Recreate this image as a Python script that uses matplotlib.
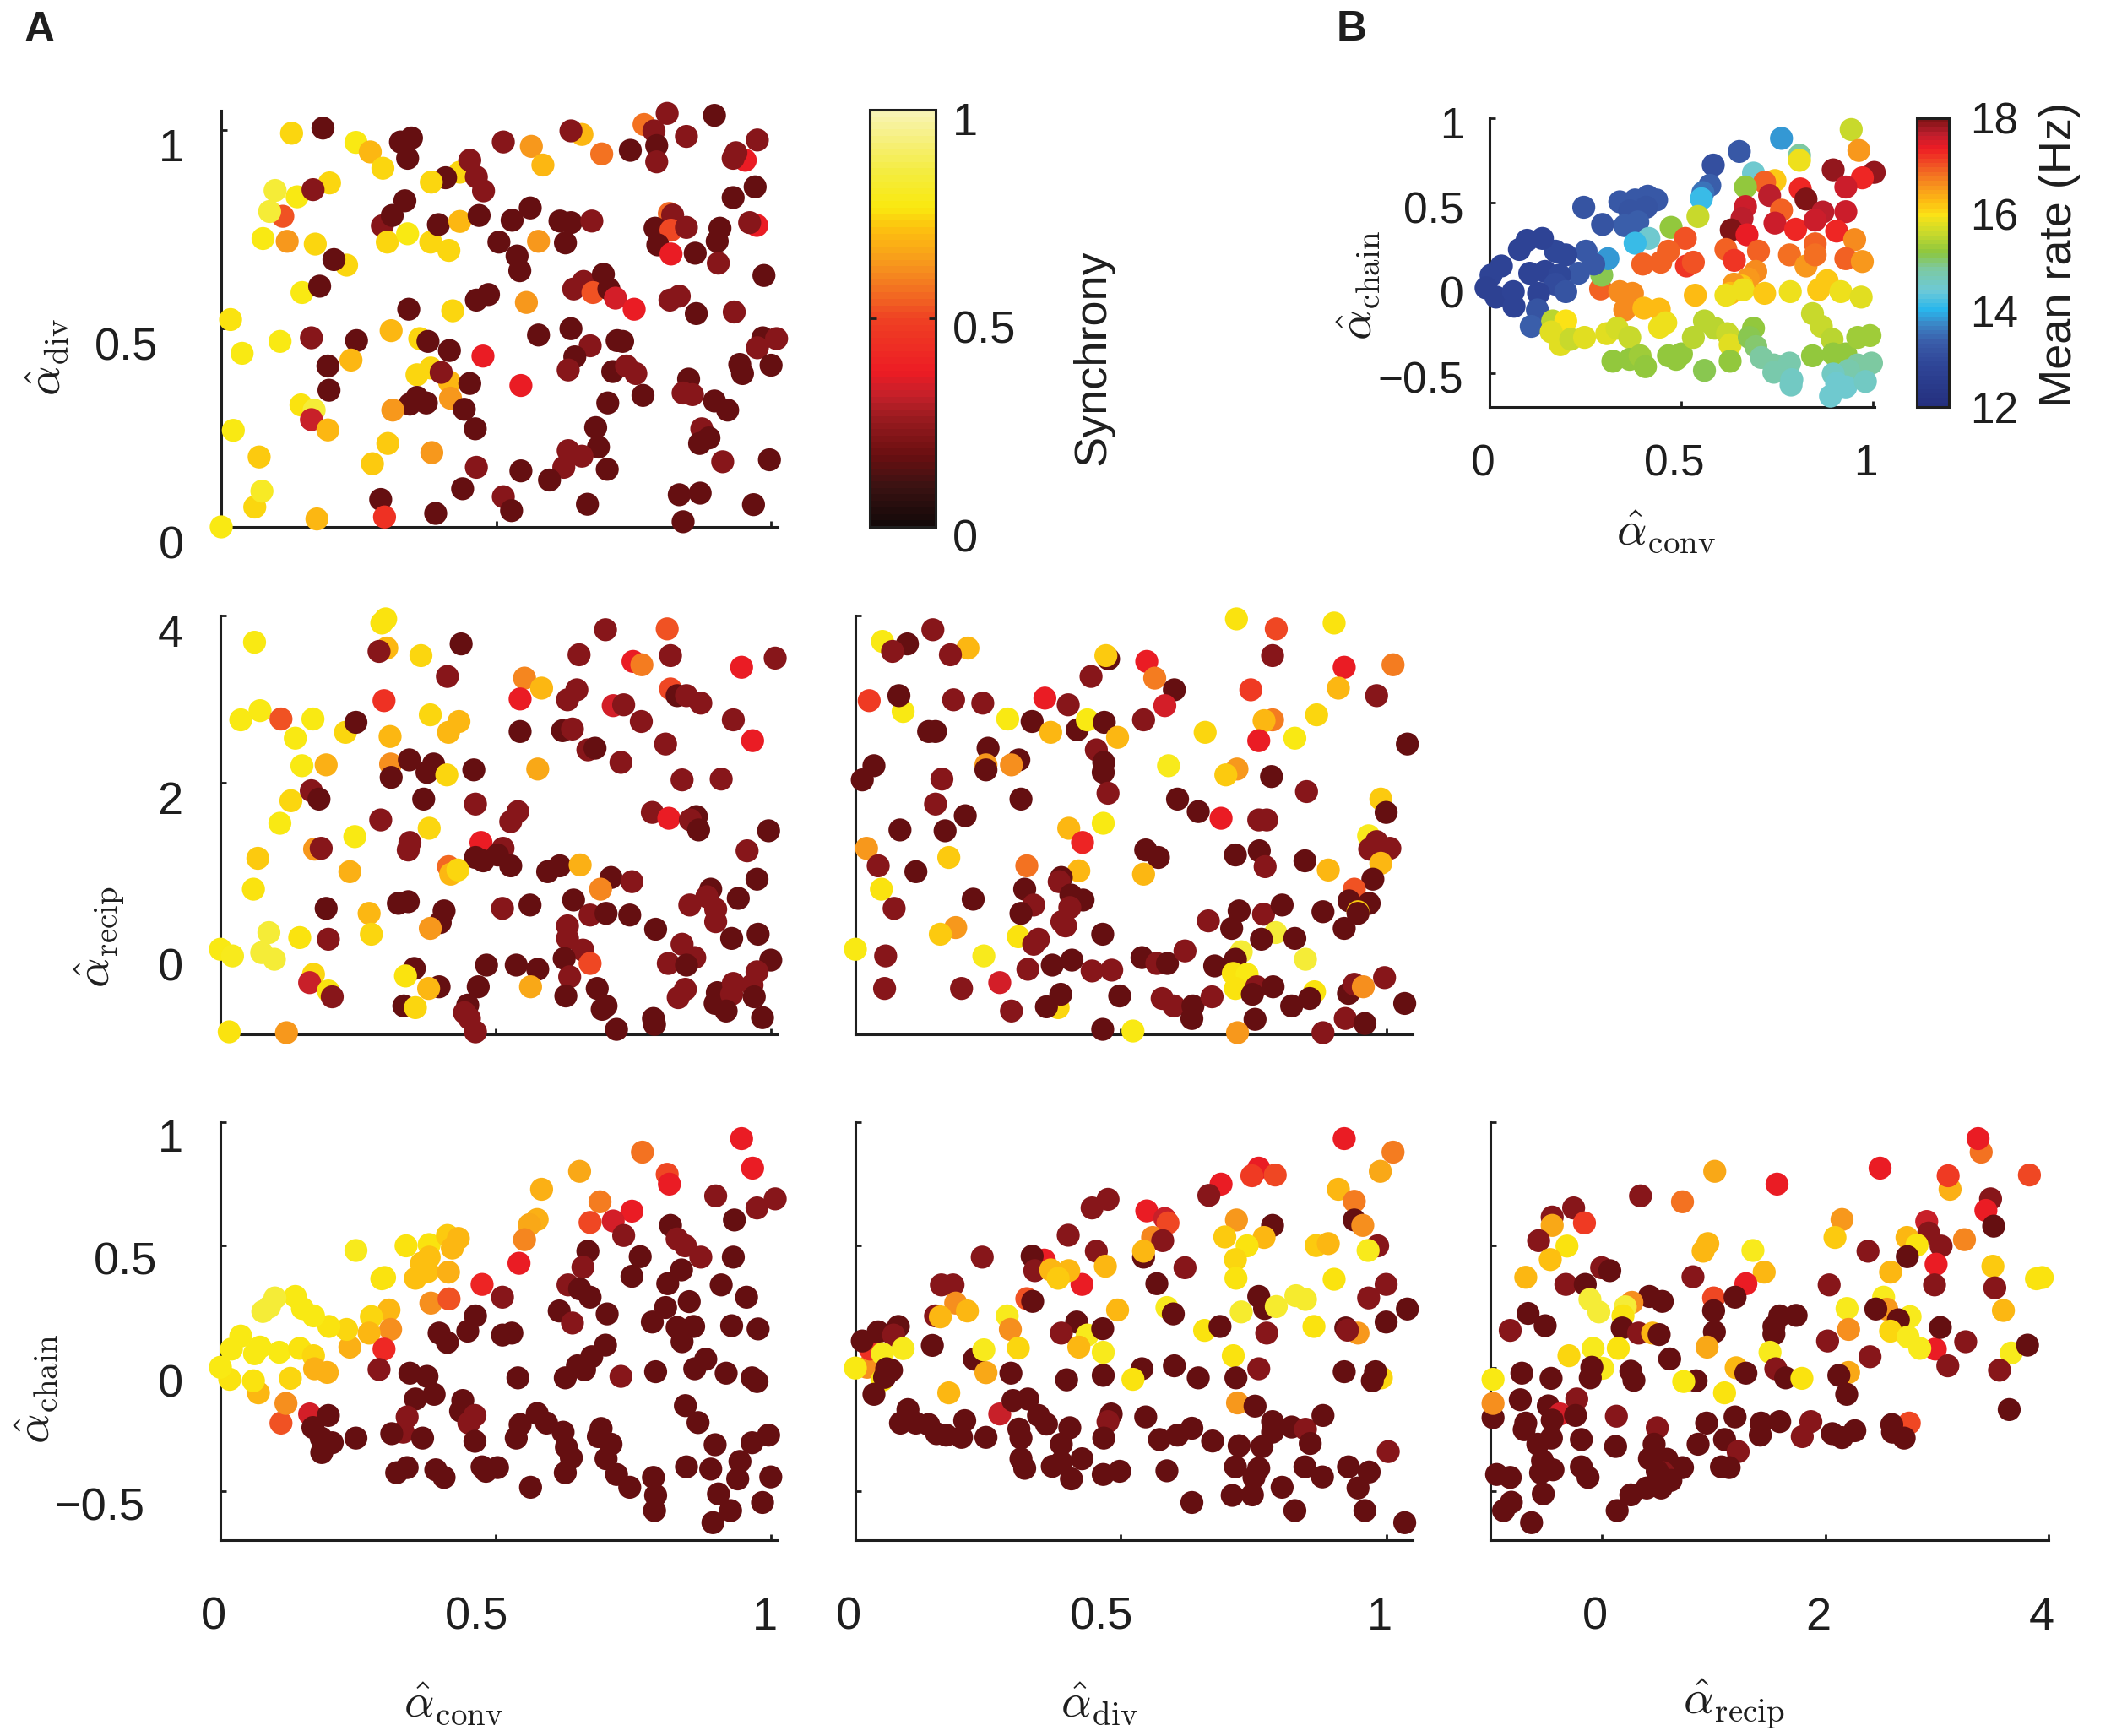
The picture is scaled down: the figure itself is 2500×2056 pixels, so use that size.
#%%
# Scatter panels: synchrony vs second order motif statistics (A), mean rate (B)
import numpy as np
import matplotlib
matplotlib.use('Agg')
import matplotlib.pyplot as plt
from matplotlib.colors import LinearSegmentedColormap, Normalize
from matplotlib.cm import ScalarMappable
from matplotlib.transforms import ScaledTranslation

plt.rcParams['font.family'] = ['Liberation Sans', 'DejaVu Sans']
plt.rcParams['mathtext.fontset'] = 'cm'

#%%
# =============================================================================
# Data: (x, y, colour value) per panel
# =============================================================================

# A, top: alpha_div vs alpha_conv, synchrony
div_conv = [
    (0.128, 0.991, 0.74), (0.185, 1.004, 0.17), (0.245, 0.968, 0.78), (0.271, 0.944, 0.69), (0.294, 0.903, 0.74),
    (0.326, 0.969, 0.17), (0.346, 0.979, 0.17), (0.339, 0.928, 0.17), (0.434, 0.893, 0.74), (0.452, 0.923, 0.22),
    (0.464, 0.881, 0.22), (0.477, 0.846, 0.22), (0.408, 0.879, 0.17), (0.382, 0.868, 0.74), (0.513, 0.969, 0.22),
    (0.564, 0.958, 0.63), (0.585, 0.911, 0.69), (0.656, 0.988, 0.69), (0.636, 0.997, 0.22), (0.692, 0.939, 0.57),
    (0.744, 0.948, 0.17), (0.769, 1.013, 0.57), (0.787, 0.997, 0.22), (0.811, 1.041, 0.22), (0.792, 0.960, 0.17),
    (0.792, 0.919, 0.22), (0.846, 0.983, 0.22), (0.897, 1.036, 0.17), (0.975, 0.974, 0.22), (0.953, 0.923, 0.37),
    (0.936, 0.942, 0.22), (0.931, 0.928, 0.22), (0.971, 0.856, 0.17), (0.931, 0.829, 0.17),
    (0.098, 0.847, 0.84), (0.138, 0.831, 0.78), (0.197, 0.866, 0.74), (0.167, 0.849, 0.22), (0.112, 0.782, 0.53),
    (0.088, 0.794, 0.84), (0.076, 0.726, 0.78), (0.120, 0.719, 0.63), (0.171, 0.712, 0.74), (0.228, 0.659, 0.74),
    (0.205, 0.673, 0.17), (0.147, 0.590, 0.78), (0.179, 0.606, 0.17), (0.293, 0.758, 0.22), (0.311, 0.784, 0.17),
    (0.334, 0.821, 0.17), (0.302, 0.717, 0.74), (0.339, 0.738, 0.78), (0.381, 0.717, 0.74), (0.414, 0.696, 0.74),
    (0.395, 0.761, 0.17), (0.434, 0.769, 0.69), (0.469, 0.784, 0.17), (0.529, 0.772, 0.17), (0.562, 0.803, 0.17),
    (0.505, 0.717, 0.17), (0.538, 0.682, 0.17), (0.543, 0.645, 0.17), (0.577, 0.719, 0.63), (0.616, 0.770, 0.17),
    (0.636, 0.766, 0.17), (0.674, 0.770, 0.22), (0.626, 0.715, 0.17), (0.815, 0.789, 0.55), (0.821, 0.785, 0.22),
    (0.789, 0.752, 0.17), (0.818, 0.747, 0.50), (0.846, 0.754, 0.22), (0.907, 0.752, 0.17), (0.902, 0.719, 0.17),
    (0.974, 0.759, 0.37), (0.961, 0.766, 0.22), (0.794, 0.710, 0.17), (0.818, 0.687, 0.37), (0.862, 0.689, 0.17),
    (0.904, 0.664, 0.22), (0.987, 0.633, 0.17), (0.641, 0.599, 0.22), (0.659, 0.618, 0.22), (0.695, 0.636, 0.17),
    (0.676, 0.590, 0.53), (0.705, 0.599, 0.17), (0.717, 0.576, 0.34), (0.751, 0.548, 0.37), (0.816, 0.571, 0.22),
    (0.833, 0.581, 0.22), (0.864, 0.537, 0.17), (0.933, 0.541, 0.22), (0.985, 0.476, 0.17), (1.010, 0.474, 0.22),
    (0.975, 0.451, 0.22), (1.000, 0.407, 0.17), (0.943, 0.409, 0.17), (0.948, 0.386, 0.17),
    (0.017, 0.522, 0.75), (0.038, 0.437, 0.78), (0.107, 0.467, 0.78), (0.164, 0.476, 0.22), (0.246, 0.469, 0.17),
    (0.309, 0.494, 0.69), (0.361, 0.474, 0.74), (0.376, 0.467, 0.17), (0.341, 0.548, 0.17), (0.421, 0.544, 0.74),
    (0.464, 0.571, 0.17), (0.486, 0.585, 0.17), (0.555, 0.565, 0.63), (0.415, 0.444, 0.17), (0.476, 0.430, 0.37),
    (0.194, 0.405, 0.17), (0.236, 0.420, 0.69), (0.196, 0.344, 0.17), (0.356, 0.383, 0.74), (0.381, 0.400, 0.74),
    (0.415, 0.365, 0.69), (0.400, 0.389, 0.22), (0.417, 0.324, 0.63), (0.452, 0.361, 0.17), (0.343, 0.309, 0.17),
    (0.356, 0.326, 0.17), (0.373, 0.312, 0.17), (0.312, 0.294, 0.63), (0.442, 0.296, 0.17), (0.462, 0.247, 0.17),
    (0.545, 0.356, 0.37), (0.577, 0.483, 0.17), (0.636, 0.499, 0.17), (0.671, 0.456, 0.22), (0.643, 0.428, 0.17),
    (0.631, 0.395, 0.22), (0.720, 0.469, 0.17), (0.730, 0.467, 0.17), (0.712, 0.391, 0.17), (0.737, 0.405, 0.22),
    (0.754, 0.386, 0.22), (0.767, 0.331, 0.17), (0.703, 0.312, 0.17), (0.681, 0.250, 0.17), (0.686, 0.201, 0.17),
    (0.631, 0.192, 0.22), (0.656, 0.178, 0.22), (0.623, 0.150, 0.22), (0.597, 0.118, 0.17), (0.702, 0.145, 0.17),
    (0.666, 0.057, 0.17), (0.850, 0.372, 0.17), (0.840, 0.337, 0.22), (0.857, 0.333, 0.22), (0.897, 0.317, 0.17),
    (0.921, 0.294, 0.17), (0.874, 0.247, 0.22), (0.887, 0.224, 0.17), (0.870, 0.210, 0.17), (0.912, 0.164, 0.22),
    (0.997, 0.169, 0.17), (0.833, 0.081, 0.17), (0.871, 0.085, 0.17), (0.840, 0.013, 0.17), (0.968, 0.056, 0.17),
    (0.545, 0.141, 0.17), (0.464, 0.150, 0.22), (0.439, 0.096, 0.17), (0.513, 0.076, 0.22), (0.528, 0.041, 0.17),
    (0.390, 0.034, 0.17), (0.290, 0.069, 0.17), (0.297, 0.025, 0.45), (0.174, 0.020, 0.69), (0.000, 0.000, 0.78),
    (0.061, 0.050, 0.74), (0.074, 0.090, 0.80), (0.069, 0.176, 0.72), (0.022, 0.243, 0.78), (0.145, 0.307, 0.75),
    (0.169, 0.294, 0.84), (0.164, 0.270, 0.32), (0.194, 0.244, 0.69), (0.303, 0.210, 0.72), (0.275, 0.159, 0.72),
    (0.383, 0.187, 0.63),
]

# A, middle left: alpha_recip vs alpha_conv
recip_conv = [
    (0.062, 3.68, 0.78), (0.300, 3.96, 0.75), (0.293, 3.91, 0.75), (0.302, 3.61, 0.69), (0.288, 3.57, 0.22),
    (0.364, 3.52, 0.74), (0.437, 3.66, 0.17), (0.412, 3.27, 0.22), (0.699, 3.83, 0.22), (0.811, 3.84, 0.52),
    (0.651, 3.53, 0.22), (0.749, 3.45, 0.37), (0.765, 3.41, 0.58), (0.817, 3.52, 0.22), (0.946, 3.38, 0.37),
    (1.007, 3.49, 0.22), (0.552, 3.25, 0.60), (0.583, 3.13, 0.69), (0.544, 3.00, 0.37), (0.647, 3.11, 0.22),
    (0.630, 2.99, 0.22), (0.297, 2.98, 0.45), (0.817, 3.12, 0.50), (0.829, 3.04, 0.17), (0.846, 3.04, 0.22),
    (0.872, 2.95, 0.22), (0.713, 2.92, 0.33), (0.732, 2.93, 0.22), (0.037, 2.75, 0.78), (0.072, 2.86, 0.78),
    (0.110, 2.76, 0.52), (0.168, 2.76, 0.78), (0.136, 2.53, 0.78), (0.227, 2.60, 0.74), (0.246, 2.72, 0.17),
    (0.308, 2.55, 0.69), (0.381, 2.81, 0.74), (0.433, 2.73, 0.69), (0.414, 2.60, 0.69), (0.544, 2.61, 0.17),
    (0.621, 2.62, 0.17), (0.639, 2.64, 0.22), (0.764, 2.73, 0.22), (0.931, 2.75, 0.22), (0.966, 2.50, 0.37),
    (0.667, 2.39, 0.22), (0.680, 2.41, 0.17), (0.808, 2.46, 0.22), (0.727, 2.24, 0.22), (0.148, 2.20, 0.78),
    (0.192, 2.21, 0.68), (0.309, 2.22, 0.62), (0.343, 2.27, 0.17), (0.310, 2.06, 0.17), (0.375, 2.12, 0.17),
    (0.387, 2.22, 0.17), (0.411, 2.09, 0.74), (0.460, 2.15, 0.17), (0.576, 2.16, 0.67), (0.838, 2.03, 0.22),
    (0.909, 2.04, 0.22), (0.128, 1.78, 0.74), (0.165, 1.90, 0.22), (0.179, 1.80, 0.17), (0.108, 1.51, 0.78),
    (0.291, 1.55, 0.22), (0.369, 1.80, 0.17), (0.463, 1.74, 0.22), (0.540, 1.65, 0.22), (0.527, 1.53, 0.22),
    (0.784, 1.64, 0.22), (0.814, 1.57, 0.37), (0.864, 1.59, 0.17), (0.853, 1.55, 0.22), (0.868, 1.43, 0.17),
    (0.995, 1.42, 0.17), (0.244, 1.35, 0.78), (0.379, 1.45, 0.74), (0.344, 1.28, 0.22), (0.341, 1.19, 0.22),
    (0.068, 1.09, 0.72), (0.171, 1.20, 0.64), (0.183, 1.21, 0.22), (0.473, 1.28, 0.37), (0.513, 1.21, 0.22),
    (0.463, 1.10, 0.17), (0.477, 1.06, 0.17), (0.503, 1.13, 0.17), (0.527, 1.00, 0.17), (0.414, 0.99, 0.55),
    (0.418, 0.90, 0.69), (0.431, 0.95, 0.74), (0.235, 0.93, 0.68), (0.594, 0.93, 0.17), (0.616, 1.00, 0.17),
    (0.653, 1.01, 0.68), (0.956, 1.18, 0.22), (0.709, 0.86, 0.17), (0.747, 0.81, 0.22), (0.690, 0.72, 0.60),
    (0.974, 0.84, 0.17), (0.060, 0.72, 0.75), (0.192, 0.49, 0.17), (0.270, 0.43, 0.69), (0.323, 0.55, 0.17),
    (0.341, 0.57, 0.17), (0.406, 0.46, 0.17), (0.399, 0.32, 0.17), (0.381, 0.25, 0.63), (0.512, 0.49, 0.22),
    (0.562, 0.53, 0.17), (0.641, 0.59, 0.17), (0.671, 0.41, 0.22), (0.700, 0.43, 0.17), (0.743, 0.41, 0.17),
    (0.630, 0.28, 0.22), (0.790, 0.24, 0.17), (0.890, 0.72, 0.17), (0.883, 0.63, 0.22), (0.852, 0.53, 0.22),
    (0.899, 0.48, 0.22), (0.899, 0.33, 0.22), (0.940, 0.61, 0.17), (0.088, 0.20, 0.84), (0.144, 0.14, 0.75),
    (0.196, 0.12, 0.22), (0.274, 0.18, 0.74), (0.630, 0.13, 0.22), (0.658, -0.01, 0.22), (0.928, 0.13, 0.17),
    (0.976, 0.18, 0.17), (0.000, 0.00, 0.78), (0.022, -0.08, 0.79), (0.075, -0.04, 0.84), (0.098, -0.12, 0.84),
    (0.352, -0.23, 0.17), (0.336, -0.32, 0.76), (0.483, -0.19, 0.17), (0.537, -0.19, 0.17), (0.576, -0.24, 0.17),
    (0.624, -0.11, 0.17), (0.671, -0.17, 0.50), (0.634, -0.33, 0.22), (0.838, 0.06, 0.22), (0.861, -0.10, 0.22),
    (0.813, -0.17, 0.22), (0.846, -0.19, 0.17), (0.999, -0.13, 0.17), (0.974, -0.27, 0.22), (0.169, -0.30, 0.74),
    (0.162, -0.40, 0.32), (0.196, -0.50, 0.76), (0.203, -0.57, 0.22), (0.397, -0.45, 0.17), (0.378, -0.47, 0.69),
    (0.468, -0.45, 0.17), (0.563, -0.45, 0.66), (0.627, -0.56, 0.17), (0.684, -0.47, 0.17), (0.700, -0.68, 0.17),
    (0.693, -0.72, 0.17), (0.844, -0.48, 0.22), (0.831, -0.58, 0.22), (0.902, -0.52, 0.17), (0.898, -0.65, 0.17),
    (0.931, -0.41, 0.22), (0.928, -0.54, 0.22), (0.965, -0.43, 0.22), (0.969, -0.57, 0.17), (0.918, -0.74, 0.17),
    (0.984, -0.82, 0.17), (0.333, -0.68, 0.17), (0.354, -0.70, 0.74), (0.449, -0.67, 0.17), (0.443, -0.76, 0.22),
    (0.452, -0.83, 0.22), (0.463, -0.99, 0.22), (0.786, -0.83, 0.17), (0.788, -0.90, 0.17), (0.719, -0.96, 0.17),
    (0.016, -0.99, 0.75), (0.120, -1.00, 0.63),
]

# A, middle: alpha_recip vs alpha_div
recip_div = [
    (0.051, 3.69, 0.78), (0.098, 3.66, 0.17), (0.070, 3.57, 0.22), (0.146, 3.83, 0.22), (0.212, 3.61, 0.69),
    (0.179, 3.53, 0.22), (0.026, 2.98, 0.47), (0.090, 2.85, 0.78), (0.082, 3.04, 0.17), (0.185, 2.99, 0.22),
    (0.240, 2.95, 0.22), (0.138, 2.61, 0.17), (0.151, 2.61, 0.17), (0.287, 2.76, 0.78), (0.333, 2.73, 0.17),
    (0.357, 3.01, 0.37), (0.401, 2.93, 0.22), (0.368, 2.60, 0.69), (0.418, 2.63, 0.17), (0.437, 2.75, 0.78),
    (0.469, 2.72, 0.17), (0.494, 2.54, 0.69), (0.477, 3.48, 0.17), (0.472, 3.52, 0.72), (0.444, 3.27, 0.22),
    (0.549, 3.45, 0.37), (0.564, 3.25, 0.58), (0.601, 3.11, 0.17), (0.583, 2.92, 0.34), (0.543, 2.75, 0.22),
    (0.718, 3.96, 0.75), (0.793, 3.84, 0.50), (0.902, 3.91, 0.75), (0.786, 3.52, 0.22), (0.921, 3.38, 0.37),
    (1.013, 3.41, 0.58), (0.745, 3.11, 0.47), (0.910, 3.13, 0.69), (0.982, 3.04, 0.22), (0.786, 2.75, 0.58),
    (0.770, 2.74, 0.69), (0.869, 2.81, 0.74), (0.760, 2.50, 0.37), (0.828, 2.53, 0.78), (0.659, 2.60, 0.74),
    (1.040, 2.46, 0.17), (0.250, 2.41, 0.17), (0.308, 2.27, 0.17), (0.246, 2.21, 0.64), (0.246, 2.15, 0.17),
    (0.294, 2.21, 0.62), (0.454, 2.39, 0.22), (0.468, 2.24, 0.17), (0.467, 2.12, 0.17), (0.476, 1.87, 0.22),
    (0.035, 2.20, 0.17), (0.013, 2.03, 0.17), (0.163, 2.04, 0.22), (0.151, 1.74, 0.22), (0.312, 1.80, 0.17),
    (0.207, 1.60, 0.17), (0.084, 1.43, 0.17), (0.169, 1.42, 0.17), (0.590, 2.20, 0.79), (0.719, 2.16, 0.64),
    (0.698, 2.09, 0.72), (0.784, 2.07, 0.17), (0.850, 1.89, 0.22), (0.607, 1.80, 0.17), (0.646, 1.65, 0.17),
    (0.689, 1.57, 0.37), (0.760, 1.55, 0.22), (0.775, 1.55, 0.22), (0.990, 1.80, 0.72), (1.000, 1.64, 0.17),
    (0.402, 1.45, 0.69), (0.467, 1.51, 0.78), (0.428, 1.28, 0.40), (0.967, 1.36, 0.79), (0.982, 1.29, 0.22),
    (1.007, 1.21, 0.22), (0.969, 1.20, 0.22), (0.990, 1.03, 0.69), (0.021, 1.21, 0.64), (0.043, 1.00, 0.22),
    (0.114, 0.93, 0.17), (0.176, 1.10, 0.72), (0.049, 0.72, 0.75), (0.073, 0.49, 0.22), (0.323, 1.00, 0.57),
    (0.421, 0.94, 0.69), (0.388, 0.86, 0.17), (0.384, 0.81, 0.22), (0.547, 1.19, 0.17), (0.571, 1.10, 0.17),
    (0.543, 0.90, 0.69), (0.716, 1.13, 0.17), (0.761, 1.18, 0.17), (0.772, 0.99, 0.22), (0.847, 1.06, 0.17),
    (0.891, 0.95, 0.69), (0.975, 0.84, 0.17), (0.940, 0.72, 0.53), (0.930, 0.58, 0.17), (0.968, 0.55, 0.17),
    (0.947, 0.45, 0.72), (0.947, 0.43, 0.17), (0.921, 0.25, 0.17), (0.881, 0.45, 0.17), (0.222, 0.60, 0.17),
    (0.319, 0.72, 0.17), (0.336, 0.53, 0.22), (0.312, 0.43, 0.17), (0.406, 0.65, 0.17), (0.429, 0.59, 0.17),
    (0.404, 0.50, 0.22), (0.389, 0.33, 0.22), (0.396, 0.28, 0.22), (0.189, 0.26, 0.64), (0.160, 0.18, 0.72),
    (0.307, 0.15, 0.75), (0.345, 0.12, 0.22), (0.336, 0.06, 0.22), (0.466, 0.18, 0.17), (0.665, 0.34, 0.22),
    (0.723, 0.46, 0.17), (0.709, 0.25, 0.17), (0.769, 0.42, 0.22), (0.804, 0.53, 0.17), (0.792, 0.20, 0.83),
    (0.765, 0.12, 0.17), (0.828, 0.13, 0.17), (0.727, -0.03, 0.83), (0.716, -0.12, 0.17), (0.848, -0.12, 0.83),
    (0.000, 0.00, 0.78), (0.057, -0.08, 0.22), (0.242, -0.08, 0.79), (0.055, -0.47, 0.22), (0.200, -0.47, 0.22),
    (0.272, -0.40, 0.33), (0.325, -0.24, 0.22), (0.371, -0.19, 0.17), (0.408, -0.13, 0.17), (0.446, -0.26, 0.22),
    (0.483, -0.25, 0.22), (0.540, -0.10, 0.17), (0.568, -0.17, 0.22), (0.588, -0.17, 0.17), (0.621, -0.02, 0.22),
    (0.677, -0.20, 0.17), (0.712, -0.29, 0.76), (0.738, -0.30, 0.77), (0.716, -0.47, 0.75), (0.756, -0.45, 0.22),
    (0.787, -0.45, 0.17), (0.748, -0.54, 0.17), (0.865, -0.51, 0.76), (0.856, -0.59, 0.17), (0.822, -0.68, 0.17),
    (0.929, -0.53, 0.17), (0.940, -0.42, 0.22), (0.957, -0.45, 0.62), (0.997, -0.34, 0.22), (1.035, -0.65, 0.17),
    (0.382, -0.70, 0.74), (0.387, -0.54, 0.17), (0.360, -0.69, 0.17), (0.294, -0.74, 0.22), (0.498, -0.56, 0.17),
    (0.578, -0.59, 0.22), (0.600, -0.68, 0.22), (0.636, -0.68, 0.17), (0.634, -0.83, 0.17), (0.672, -0.57, 0.22),
    (0.753, -0.84, 0.17), (0.923, -0.83, 0.22), (0.960, -0.89, 0.17), (0.466, -0.96, 0.17), (0.523, -0.98, 0.77),
    (0.720, -1.00, 0.64), (0.881, -1.00, 0.22),
]

# A, bottom left: alpha_chain vs alpha_conv
chain_conv = [
    (0.946, 0.933, 0.37), (0.966, 0.813, 0.37), (0.766, 0.878, 0.57), (0.652, 0.800, 0.66), (0.811, 0.788, 0.50),
    (0.815, 0.748, 0.37), (0.583, 0.727, 0.68), (0.899, 0.700, 0.22), (1.007, 0.688, 0.22), (0.974, 0.651, 0.22),
    (0.689, 0.676, 0.58), (0.747, 0.638, 0.37), (0.671, 0.592, 0.50), (0.713, 0.598, 0.33), (0.732, 0.539, 0.22),
    (0.575, 0.604, 0.68), (0.561, 0.583, 0.66), (0.552, 0.522, 0.60), (0.933, 0.602, 0.17), (0.817, 0.580, 0.17),
    (0.829, 0.525, 0.22), (0.844, 0.497, 0.22), (0.872, 0.451, 0.22), (0.931, 0.451, 0.17), (0.762, 0.453, 0.17),
    (0.667, 0.475, 0.17), (0.658, 0.410, 0.22), (0.747, 0.373, 0.17), (0.837, 0.399, 0.17), (0.812, 0.343, 0.17),
    (0.909, 0.338, 0.17), (0.955, 0.288, 0.17), (0.542, 0.426, 0.37), (0.475, 0.340, 0.40), (0.512, 0.288, 0.22),
    (0.631, 0.338, 0.22), (0.652, 0.322, 0.17), (0.671, 0.288, 0.17), (0.808, 0.246, 0.17), (0.851, 0.270, 0.17),
    (0.615, 0.232, 0.17), (0.639, 0.183, 0.22), (0.702, 0.220, 0.17), (0.784, 0.187, 0.17), (0.829, 0.165, 0.17),
    (0.859, 0.169, 0.17), (0.838, 0.107, 0.17), (0.928, 0.172, 0.17), (0.976, 0.159, 0.17), (0.463, 0.212, 0.17),
    (0.449, 0.150, 0.17), (0.397, 0.142, 0.17), (0.412, 0.104, 0.17), (0.512, 0.134, 0.17), (0.529, 0.142, 0.17),
    (0.699, 0.093, 0.17), (0.674, 0.046, 0.17), (0.648, 0.009, 0.17), (0.661, -0.007, 0.17), (0.626, -0.040, 0.17),
    (0.540, -0.040, 0.17), (0.727, -0.034, 0.22), (0.790, -0.015, 0.17), (0.861, -0.003, 0.17), (0.881, 0.036, 0.17),
    (0.918, -0.021, 0.17), (0.965, -0.040, 0.17), (0.974, -0.055, 0.17), (0.246, 0.478, 0.79), (0.337, 0.497, 0.75),
    (0.379, 0.502, 0.75), (0.412, 0.539, 0.73), (0.432, 0.527, 0.70), (0.421, 0.488, 0.70), (0.379, 0.451, 0.71),
    (0.365, 0.426, 0.71), (0.376, 0.392, 0.71), (0.354, 0.365, 0.71), (0.414, 0.390, 0.68), (0.293, 0.363, 0.75),
    (0.298, 0.368, 0.75), (0.382, 0.264, 0.62), (0.415, 0.281, 0.53), (0.306, 0.236, 0.69), (0.274, 0.209, 0.74),
    (0.309, 0.157, 0.62), (0.270, 0.142, 0.69), (0.297, 0.077, 0.42), (0.288, -0.006, 0.22), (0.344, -0.021, 0.17),
    (0.375, -0.034, 0.17), (0.354, -0.126, 0.17), (0.388, -0.107, 0.17), (0.339, -0.199, 0.22), (0.332, -0.261, 0.22),
    (0.311, -0.267, 0.17), (0.367, -0.285, 0.17), (0.440, -0.132, 0.17), (0.436, -0.175, 0.17), (0.462, -0.193, 0.22),
    (0.451, -0.224, 0.22), (0.462, -0.298, 0.17), (0.320, -0.426, 0.17), (0.339, -0.405, 0.17), (0.391, -0.414, 0.17),
    (0.406, -0.445, 0.17), (0.475, -0.402, 0.17), (0.503, -0.405, 0.17), (0.482, -0.420, 0.17), (0.563, -0.485, 0.17),
    (0.544, -0.230, 0.17), (0.575, -0.185, 0.17), (0.592, -0.224, 0.17), (0.537, -0.285, 0.17), (0.622, -0.261, 0.17),
    (0.628, -0.322, 0.17), (0.637, -0.365, 0.17), (0.626, -0.426, 0.17), (0.691, -0.246, 0.17), (0.686, -0.279, 0.17),
    (0.709, -0.310, 0.17), (0.700, -0.369, 0.17), (0.719, -0.433, 0.17), (0.743, -0.485, 0.17), (0.786, -0.445, 0.17),
    (0.790, -0.518, 0.17), (0.788, -0.580, 0.17), (0.844, -0.153, 0.17), (0.867, -0.222, 0.17), (0.898, -0.312, 0.17),
    (0.846, -0.402, 0.17), (0.890, -0.411, 0.17), (0.943, -0.380, 0.17), (0.965, -0.304, 0.17), (0.995, -0.273, 0.17),
    (0.939, -0.451, 0.17), (0.999, -0.443, 0.17), (0.904, -0.512, 0.17), (0.926, -0.580, 0.17), (0.984, -0.547, 0.17),
    (0.894, -0.629, 0.17), (0.246, -0.285, 0.17), (0.162, -0.187, 0.33), (0.196, -0.193, 0.17), (0.168, -0.242, 0.17),
    (0.183, -0.285, 0.17), (0.203, -0.304, 0.17), (0.184, -0.344, 0.17), (0.110, -0.224, 0.52), (0.119, -0.144, 0.62),
    (0.069, -0.101, 0.69), (0.060, -0.052, 0.75), (0.017, -0.046, 0.75), (0.000, 0.003, 0.78), (0.037, 0.130, 0.78),
    (0.020, 0.077, 0.78), (0.062, 0.058, 0.78), (0.072, 0.085, 0.78), (0.107, 0.064, 0.77), (0.144, 0.080, 0.75),
    (0.127, -0.042, 0.74), (0.169, 0.050, 0.74), (0.171, -0.003, 0.68), (0.194, -0.018, 0.68), (0.235, 0.085, 0.68),
    (0.229, 0.157, 0.74), (0.197, 0.169, 0.75), (0.169, 0.212, 0.78), (0.149, 0.242, 0.78), (0.136, 0.291, 0.78),
    (0.099, 0.285, 0.83), (0.089, 0.249, 0.83), (0.077, 0.230, 0.83),
]

# A, bottom middle: alpha_chain vs alpha_div
chain_div = [
    (0.921, 0.933, 0.37), (1.013, 0.878, 0.58), (0.989, 0.800, 0.66), (0.760, 0.813, 0.37), (0.747, 0.782, 0.48),
    (0.791, 0.785, 0.50), (0.689, 0.748, 0.37), (0.666, 0.702, 0.22), (0.910, 0.727, 0.69), (0.940, 0.678, 0.58),
    (0.940, 0.602, 0.17), (0.956, 0.580, 0.62), (0.984, 0.497, 0.22), (0.966, 0.478, 0.79), (0.718, 0.602, 0.64),
    (0.786, 0.580, 0.17), (0.770, 0.531, 0.69), (0.696, 0.533, 0.72), (0.738, 0.497, 0.76), (0.716, 0.441, 0.74),
    (0.717, 0.365, 0.75), (0.868, 0.498, 0.73), (0.891, 0.506, 0.69), (0.902, 0.361, 0.75), (1.000, 0.340, 0.22),
    (0.967, 0.285, 0.22), (1.040, 0.240, 0.17), (1.000, 0.187, 0.17), (0.924, 0.163, 0.17), (0.947, 0.142, 0.64),
    (0.927, 0.154, 0.22), (0.864, 0.169, 0.75), (0.476, 0.686, 0.22), (0.446, 0.651, 0.22), (0.549, 0.639, 0.37),
    (0.583, 0.608, 0.32), (0.589, 0.590, 0.50), (0.560, 0.531, 0.60), (0.579, 0.518, 0.22), (0.543, 0.451, 0.17),
    (0.543, 0.475, 0.69), (0.401, 0.540, 0.22), (0.454, 0.475, 0.22), (0.471, 0.414, 0.70), (0.621, 0.408, 0.22),
    (0.568, 0.343, 0.17), (0.427, 0.340, 0.37), (0.356, 0.439, 0.37), (0.333, 0.455, 0.17), (0.338, 0.396, 0.22),
    (0.368, 0.399, 0.69), (0.402, 0.396, 0.69), (0.382, 0.365, 0.72), (0.239, 0.451, 0.22), (0.162, 0.338, 0.22),
    (0.184, 0.338, 0.22), (0.189, 0.264, 0.62), (0.211, 0.232, 0.69), (0.151, 0.212, 0.22), (0.160, 0.208, 0.69),
    (0.323, 0.282, 0.52), (0.334, 0.271, 0.17), (0.286, 0.212, 0.79), (0.292, 0.157, 0.62), (0.307, 0.081, 0.74),
    (0.224, 0.036, 0.17), (0.242, 0.074, 0.79), (0.246, -0.019, 0.66), (0.293, -0.021, 0.17), (0.176, -0.101, 0.70),
    (0.145, 0.092, 0.17), (0.494, 0.236, 0.69), (0.417, 0.187, 0.17), (0.388, 0.142, 0.22), (0.437, 0.134, 0.79),
    (0.466, 0.160, 0.17), (0.421, 0.085, 0.69), (0.467, 0.064, 0.79), (0.587, 0.246, 0.79), (0.599, 0.220, 0.17),
    (0.658, 0.153, 0.75), (0.687, 0.169, 0.17), (0.727, 0.228, 0.82), (0.760, 0.291, 0.17), (0.771, 0.242, 0.17),
    (0.793, 0.250, 0.82), (0.830, 0.294, 0.82), (0.848, 0.279, 0.82), (0.775, 0.142, 0.22), (0.712, 0.050, 0.75),
    (0.760, -0.003, 0.22), (0.717, -0.040, 0.17), (0.646, -0.040, 0.17), (0.601, 0.009, 0.17), (0.540, -0.003, 0.17),
    (0.523, -0.046, 0.75), (0.467, -0.030, 0.17), (0.398, -0.048, 0.17), (0.921, -0.015, 0.17), (0.991, -0.040, 0.74),
    (0.980, -0.015, 0.17), (0.974, -0.052, 0.17), (0.022, 0.003, 0.62), (0.000, 0.000, 0.78), (0.028, 0.077, 0.45),
    (0.013, 0.110, 0.17), (0.043, 0.147, 0.17), (0.081, 0.169, 0.17), (0.072, 0.134, 0.22), (0.090, 0.079, 0.79),
    (0.051, 0.058, 0.79), (0.050, -0.050, 0.75), (0.059, -0.003, 0.17), (0.068, -0.009, 0.17), (0.055, -0.038, 0.17),
    (0.035, -0.107, 0.17), (0.099, -0.169, 0.17), (0.085, -0.224, 0.17), (0.114, -0.224, 0.17), (0.138, -0.230, 0.17),
    (0.153, -0.267, 0.17), (0.171, -0.273, 0.17), (0.200, -0.282, 0.17), (0.206, -0.214, 0.17), (0.246, -0.282, 0.17),
    (0.272, -0.187, 0.32), (0.297, -0.132, 0.17), (0.325, -0.126, 0.17), (0.345, -0.193, 0.17), (0.360, -0.228, 0.17),
    (0.308, -0.248, 0.17), (0.312, -0.285, 0.17), (0.404, -0.243, 0.17), (0.388, -0.310, 0.17), (0.312, -0.369, 0.17),
    (0.319, -0.408, 0.17), (0.371, -0.400, 0.17), (0.388, -0.383, 0.17), (0.427, -0.369, 0.17), (0.407, -0.451, 0.17),
    (0.467, -0.433, 0.17), (0.498, -0.420, 0.17), (0.482, -0.187, 0.17), (0.476, -0.218, 0.22), (0.468, -0.285, 0.17),
    (0.547, -0.199, 0.17), (0.573, -0.291, 0.17), (0.607, -0.273, 0.17), (0.634, -0.245, 0.17), (0.673, -0.297, 0.17),
    (0.587, -0.418, 0.17), (0.634, -0.547, 0.17), (0.720, -0.142, 0.63), (0.753, -0.155, 0.17), (0.786, -0.218, 0.17),
    (0.786, -0.261, 0.17), (0.822, -0.240, 0.17), (0.848, -0.249, 0.22), (0.881, -0.193, 0.17), (0.857, -0.307, 0.17),
    (0.723, -0.316, 0.17), (0.766, -0.320, 0.17), (0.716, -0.402, 0.17), (0.760, -0.408, 0.17), (0.751, -0.445, 0.17),
    (0.847, -0.402, 0.17), (0.880, -0.443, 0.17), (0.804, -0.485, 0.17), (0.710, -0.518, 0.17), (0.748, -0.516, 0.17),
    (0.828, -0.580, 0.17), (0.929, -0.402, 0.17), (0.968, -0.423, 0.17), (0.947, -0.488, 0.17), (0.960, -0.580, 0.17),
    (1.004, -0.340, 0.22), (1.035, -0.629, 0.17),
]

# A, bottom right: alpha_chain vs alpha_recip
chain_recip = [
    (3.397, 0.878, 0.57), (3.369, 0.933, 0.37), (2.491, 0.813, 0.37), (3.118, 0.727, 0.68), (3.101, 0.782, 0.48),
    (3.829, 0.785, 0.50), (1.568, 0.748, 0.37), (1.010, 0.800, 0.66), (0.345, 0.700, 0.22), (0.721, 0.676, 0.57),
    (3.481, 0.688, 0.22), (3.439, 0.641, 0.37), (3.509, 0.577, 0.17), (2.909, 0.596, 0.32), (2.927, 0.549, 0.22),
    (3.038, 0.496, 0.22), (2.732, 0.531, 0.69), (2.822, 0.500, 0.75), (2.735, 0.453, 0.17), (2.993, 0.422, 0.37),
    (2.979, 0.338, 0.22), (3.247, 0.522, 0.60), (3.502, 0.414, 0.73), (3.519, 0.326, 0.22), (3.596, 0.234, 0.70),
    (3.892, 0.363, 0.76), (3.944, 0.368, 0.75), (2.150, 0.604, 0.64), (2.087, 0.531, 0.72), (2.383, 0.475, 0.22),
    (2.585, 0.390, 0.69), (2.035, 0.338, 0.22), (2.523, 0.288, 0.79), (2.551, 0.239, 0.64), (2.453, 0.240, 0.17),
    (2.195, 0.242, 0.79), (2.760, 0.209, 0.79), (2.655, 0.196, 0.17), (2.585, 0.150, 0.74), (2.742, 0.126, 0.79),
    (2.986, 0.077, 0.37), (2.847, 0.080, 0.79), (3.031, 0.165, 0.17), (3.258, 0.107, 0.22), (3.098, 0.009, 0.22),
    (3.666, 0.061, 0.79), (3.812, 0.093, 0.17), (3.561, -0.009, 0.22), (3.648, -0.169, 0.17), (2.209, 0.157, 0.62),
    (2.021, 0.110, 0.22), (2.401, 0.046, 0.22), (2.209, -0.018, 0.66), (2.122, -0.030, 0.17), (2.192, -0.107, 0.17),
    (-0.446, 0.614, 0.22), (-0.254, 0.651, 0.22), (-0.446, 0.580, 0.66), (-0.157, 0.590, 0.48), (-0.568, 0.518, 0.22),
    (-0.314, 0.496, 0.75), (-0.463, 0.441, 0.71), (-0.683, 0.369, 0.70), (-0.324, 0.340, 0.22), (-0.150, 0.340, 0.17),
    (-0.003, 0.408, 0.22), (0.070, 0.396, 0.17), (0.948, 0.506, 0.69), (0.906, 0.475, 0.69), (1.352, 0.478, 0.79),
    (1.453, 0.390, 0.69), (0.815, 0.371, 0.22), (1.289, 0.343, 0.37), (1.000, 0.285, 0.50), (1.192, 0.288, 0.17),
    (1.000, 0.233, 0.17), (1.007, 0.147, 0.17), (0.941, 0.085, 0.66), (0.425, 0.291, 0.17), (0.540, 0.271, 0.17),
    (0.268, 0.267, 0.62), (0.209, 0.249, 0.83), (0.188, 0.212, 0.75), (-0.108, 0.279, 0.83), (-0.028, 0.228, 0.83),
    (-0.662, 0.222, 0.17), (-0.509, 0.172, 0.17), (-0.822, 0.153, 0.22), (0.181, 0.163, 0.17), (0.328, 0.142, 0.22),
    (0.453, 0.142, 0.69), (0.512, 0.136, 0.17), (0.606, 0.037, 0.17), (1.592, 0.212, 0.17), (1.739, 0.214, 0.17),
    (1.540, 0.169, 0.17), (1.540, 0.138, 0.17), (1.505, 0.064, 0.79), (1.557, -0.003, 0.22), (1.645, -0.040, 0.17),
    (1.791, -0.042, 0.75), (1.202, 0.001, 0.69), (1.289, -0.021, 0.17), (1.098, -0.101, 0.75), (0.843, -0.052, 0.17),
    (0.732, -0.055, 0.77), (-0.296, 0.050, 0.74), (-0.080, 0.080, 0.79), (0.146, 0.080, 0.75), (0.007, -0.001, 0.79),
    (-0.091, 0.003, 0.17), (-0.105, -0.040, 0.17), (0.258, -0.013, 0.17), (0.286, -0.050, 0.17), (-0.718, -0.021, 0.17),
    (-0.456, -0.042, 0.17), (-0.976, -0.046, 0.77), (-0.976, -0.202, 0.17), (-0.976, -0.144, 0.62), (-0.732, -0.129, 0.17),
    (-0.481, -0.154, 0.17), (-0.226, -0.126, 0.22), (-0.376, -0.187, 0.34), (-0.237, -0.193, 0.17), (-0.446, -0.212, 0.17),
    (-0.683, -0.224, 0.17), (-0.697, -0.251, 0.17), (-0.453, -0.285, 0.17), (-0.575, -0.310, 0.17), (-0.185, -0.291, 0.17),
    (-0.533, -0.377, 0.17), (-0.439, -0.414, 0.17), (-0.550, -0.426, 0.17), (-0.185, -0.402, 0.17), (-0.125, -0.445, 0.17),
    (-0.944, -0.433, 0.17), (-0.822, -0.445, 0.17), (-0.526, -0.512, 0.17), (-0.812, -0.546, 0.17), (-0.882, -0.580, 0.17),
    (-0.631, -0.629, 0.17), (0.129, -0.196, 0.22), (0.122, -0.319, 0.17), (0.136, -0.580, 0.17), (0.495, -0.243, 0.22),
    (0.467, -0.310, 0.17), (0.425, -0.369, 0.17), (0.582, -0.371, 0.17), (0.721, -0.405, 0.17), (0.547, -0.426, 0.22),
    (0.495, -0.420, 0.17), (0.617, -0.457, 0.17), (0.401, -0.488, 0.17), (0.530, -0.488, 0.17), (0.258, -0.516, 0.17),
    (0.937, -0.224, 0.17), (0.861, -0.310, 0.17), (1.192, -0.199, 0.17), (1.098, -0.291, 0.17), (1.220, -0.340, 0.22),
    (1.070, -0.402, 0.17), (1.139, -0.405, 0.17), (1.425, -0.224, 0.17), (1.592, -0.218, 0.17), (1.418, -0.273, 0.17),
    (1.871, -0.218, 0.22), (1.794, -0.279, 0.22), (2.063, -0.267, 0.17), (2.150, -0.283, 0.17), (2.265, -0.255, 0.17),
    (2.753, -0.224, 0.50), (2.596, -0.230, 0.17), (2.603, -0.261, 0.17), (2.707, -0.285, 0.17),
]

# B: alpha_chain vs alpha_conv, mean rate (Hz)
rate_chain_conv = [
    (0.944, 0.931, 15.6), (0.762, 0.879, 13.8), (0.652, 0.802, 13.3), (0.809, 0.780, 14.9), (0.809, 0.750, 15.9),
    (0.964, 0.808, 16.5), (0.584, 0.722, 13.1), (0.897, 0.694, 17.9), (1.004, 0.679, 17.9), (0.973, 0.647, 17.3),
    (0.930, 0.593, 17.6), (0.689, 0.675, 14.5), (0.745, 0.631, 16.2), (0.718, 0.621, 16.9), (0.668, 0.593, 15.2),
    (0.575, 0.603, 13.4), (0.557, 0.560, 13.5), (0.553, 0.524, 14.1), (0.731, 0.543, 17.7), (0.811, 0.582, 17.3),
    (0.826, 0.522, 18.0), (0.870, 0.446, 17.7), (0.930, 0.448, 17.6), (0.668, 0.478, 17.6), (0.762, 0.457, 16.9),
    (0.659, 0.409, 17.7), (0.631, 0.341, 18.0), (0.672, 0.312, 17.4), (0.745, 0.381, 17.6), (0.799, 0.345, 17.3),
    (0.850, 0.399, 17.6), (0.850, 0.259, 16.9), (0.906, 0.334, 17.3), (0.953, 0.284, 16.6), (0.930, 0.172, 16.9),
    (0.973, 0.155, 16.5), (0.246, 0.474, 13.2), (0.340, 0.506, 13.3), (0.380, 0.517, 13.3), (0.413, 0.539, 13.3),
    (0.436, 0.517, 13.3), (0.409, 0.474, 13.2), (0.366, 0.453, 13.2), (0.387, 0.388, 13.4), (0.353, 0.366, 13.4),
    (0.295, 0.373, 13.2), (0.416, 0.291, 14.5), (0.380, 0.263, 14.1), (0.474, 0.356, 15.2), (0.544, 0.420, 15.6),
    (0.511, 0.291, 17.0), (0.467, 0.216, 16.9), (0.447, 0.151, 16.9), (0.400, 0.140, 16.9), (0.514, 0.129, 17.2),
    (0.532, 0.151, 17.0), (0.617, 0.226, 16.9), (0.639, 0.162, 17.2), (0.702, 0.216, 16.9), (0.783, 0.194, 16.8),
    (0.826, 0.129, 16.5), (0.850, 0.194, 16.8), (0.695, 0.097, 16.6), (0.675, 0.054, 16.5), (0.659, 0.011, 16.2),
    (0.638, 0.022, 16.5), (0.628, -0.032, 16.3), (0.617, -0.043, 15.9), (0.662, -0.011, 15.9), (0.718, -0.032, 16.2),
    (0.785, -0.022, 15.9), (0.859, -0.011, 16.2), (0.881, 0.043, 16.2), (0.917, -0.022, 15.9), (0.970, -0.054, 15.8),
    (0.537, -0.043, 16.3), (0.290, -0.006, 16.9), (0.340, -0.022, 16.6), (0.373, -0.032, 16.6), (0.353, -0.129, 16.6),
    (0.403, -0.119, 16.3), (0.443, -0.125, 16.3), (0.460, -0.205, 15.9), (0.444, -0.231, 15.9), (0.293, 0.075, 15.1),
    (0.309, 0.172, 13.8), (0.252, 0.216, 13.3), (0.232, 0.086, 13.3), (0.272, 0.140, 13.3), (0.199, 0.194, 12.9),
    (0.172, 0.216, 12.9), (0.138, 0.291, 12.8), (0.098, 0.280, 12.8), (0.078, 0.226, 12.8), (0.031, 0.129, 12.8),
    (0.004, 0.075, 12.8), (-0.009, 0.000, 12.7), (0.017, -0.054, 12.7), (0.062, -0.022, 12.8), (0.064, -0.108, 12.8),
    (0.105, 0.086, 12.8), (0.145, 0.097, 12.8), (0.183, 0.075, 12.9), (0.172, 0.022, 13.0), (0.199, -0.022, 13.2),
    (0.128, -0.032, 12.8), (0.125, -0.129, 13.2), (0.109, -0.226, 13.4), (0.165, -0.194, 15.5), (0.199, -0.194, 16.0),
    (0.161, -0.259, 15.8), (0.185, -0.334, 15.8), (0.212, -0.302, 15.6), (0.248, -0.291, 15.8), (0.306, -0.269, 15.8),
    (0.333, -0.237, 15.7), (0.366, -0.291, 15.6), (0.322, -0.431, 15.2), (0.366, -0.420, 15.2), (0.393, -0.399, 15.3),
    (0.407, -0.463, 15.2), (0.467, -0.399, 15.2), (0.487, -0.420, 15.2), (0.501, -0.388, 15.2), (0.532, -0.291, 15.5),
    (0.561, -0.194, 15.5), (0.588, -0.237, 15.5), (0.621, -0.269, 15.6), (0.628, -0.334, 15.8), (0.561, -0.485, 15.1),
    (0.628, -0.431, 15.2), (0.689, -0.237, 15.2), (0.678, -0.291, 15.1), (0.695, -0.345, 15.0), (0.709, -0.409, 14.9),
    (0.742, -0.453, 14.9), (0.742, -0.496, 14.8), (0.783, -0.442, 14.8), (0.789, -0.539, 14.6), (0.787, -0.571, 14.6),
    (0.843, -0.151, 15.6), (0.866, -0.226, 15.6), (0.894, -0.302, 15.5), (0.897, -0.388, 15.2), (0.843, -0.399, 15.2),
    (0.930, -0.388, 15.2), (0.961, -0.291, 15.3), (0.993, -0.280, 15.3), (0.997, -0.442, 14.9), (0.961, -0.453, 14.9),
    (0.937, -0.485, 14.8), (0.897, -0.506, 14.6), (0.906, -0.560, 14.5), (0.930, -0.582, 14.5), (0.890, -0.636, 14.5),
    (0.981, -0.550, 14.6),
]

# tick values / labels
frac_ticks = [0, 0.5, 1]
frac_labels = ['0', '0.5', '1']
recip_ticks = [0, 2, 4]
recip_labels = ['0', '2', '4']
chain_ticks = [-0.5, 0, 0.5, 1]
chain_labels = ['\u22120.5', '0', '0.5', '1']
rate_ticks = [12, 14, 16, 18]

#%%
# =============================================================================
# Colour maps (print-style hot and jet)
# =============================================================================
sync_cmap = LinearSegmentedColormap.from_list('sync', [
    (0.00, '#140909'), (0.09, '#3a1212'), (0.17, '#6c0f11'), (0.26, '#9b1b20'),
    (0.31, '#c3202a'), (0.37, '#ed1c24'), (0.50, '#ef4123'), (0.55, '#f26522'),
    (0.63, '#f7961d'), (0.72, '#fdc20f'), (0.77, '#f9e90f'), (0.85, '#f4ec3c'),
    (0.92, '#f6ef70'), (1.00, '#f8f4b4')], N=64)

rate_cmap = LinearSegmentedColormap.from_list('rate', [
    (0.000, '#25307f'), (0.133, '#2e4496'), (0.217, '#3a5ba8'), (0.283, '#3b86c6'),
    (0.333, '#29b6ec'), (0.400, '#6cc9d8'), (0.483, '#7ec99c'), (0.533, '#8cc63f'),
    (0.600, '#c5d92d'), (0.667, '#fbe216'), (0.717, '#fdb913'), (0.767, '#f7941d'),
    (0.833, '#f15a24'), (0.900, '#ed1c24'), (0.950, '#be1e2d'), (1.000, '#7f1416')], N=64)

#%%
# =============================================================================
# Figure
# =============================================================================
W, H = 2500, 2056
fig = plt.figure(figsize=(W / 100, H / 100), dpi=100)
INK = '#1e1e1e'


def rect(left, right, top, bottom):
    """Axes rectangle from pixel edges."""
    return [left / W, 1 - bottom / H, (right - left) / W, (bottom - top) / H]


def px(dx, dy):
    return ScaledTranslation(dx / 100, dy / 100, fig.dpi_scale_trans)


def setup(ax, xlim, ylim, xticks, yticks, xlabels=None, ylabels=None,
          fs=39, xpad=48, ypad=32, ydrop=18, per_char=0):
    ax.set_xlim(*xlim)
    ax.set_ylim(*ylim)
    ax.patch.set_visible(False)
    ax.spines[['top', 'right']].set_visible(False)
    ax.spines[['left', 'bottom']].set_linewidth(2.2)
    ax.spines[['left', 'bottom']].set_color(INK)
    ax.set_xticks(xticks)
    ax.set_yticks(yticks)
    if xlabels:
        ax.set_xticklabels(xlabels)
    if ylabels:
        ax.set_yticklabels(ylabels)
    ax.tick_params(direction='in', length=5, width=2, color=INK,
                   labelcolor=INK, labelsize=fs,
                   labelbottom=bool(xlabels), labelleft=bool(ylabels))
    ax.tick_params(axis='x', pad=xpad)
    ax.tick_params(axis='y', pad=ypad)
    # the original export pushes longer labels a little to the left
    if xlabels:
        for lab, txt in zip(ax.get_xticklabels(), xlabels):
            lab.set_transform(lab.get_transform() + px(-8 - per_char / 2 * (len(txt) - 1), 0))
    if ylabels:
        for lab, txt in zip(ax.get_yticklabels(), ylabels):
            lab.set_transform(lab.get_transform() + px(-per_char * (len(txt) - 1), -ydrop))


def dots(ax, pts, cmap, vmin, vmax):
    arr = np.array(pts)
    ax.scatter(arr[:, 0], arr[:, 1], c=arr[:, 2], cmap=cmap, vmin=vmin, vmax=vmax,
               s=385, linewidths=0, clip_on=False, zorder=3)


# --- panel A grid
ax1 = fig.add_axes(rect(262, 921, 131, 624))
setup(ax1, (0, 1.012), (0, 1.048), frac_ticks, frac_ticks, None, frac_labels, per_char=15)
dots(ax1, div_conv, sync_cmap, 0, 1)

ax2 = fig.add_axes(rect(261, 920, 729, 1225))
setup(ax2, (0, 1.01), (-1.02, 4.0), frac_ticks, recip_ticks, None, recip_labels, per_char=15)
dots(ax2, recip_conv, sync_cmap, 0, 1)

ax3 = fig.add_axes(rect(1013, 1673, 729, 1225))
setup(ax3, (0, 1.05), (-1.02, 4.0), frac_ticks, recip_ticks)
dots(ax3, recip_div, sync_cmap, 0, 1)

ax4 = fig.add_axes(rect(261, 920, 1329, 1824))
setup(ax4, (0, 1.01), (-0.7, 1.0), frac_ticks, chain_ticks, frac_labels, chain_labels,
      ydrop=15, per_char=15)
dots(ax4, chain_conv, sync_cmap, 0, 1)

ax5 = fig.add_axes(rect(1013, 1673, 1329, 1824))
setup(ax5, (0, 1.05), (-0.7, 1.0), frac_ticks, chain_ticks, frac_labels, per_char=15)
dots(ax5, chain_div, sync_cmap, 0, 1)

ax6 = fig.add_axes(rect(1765, 2426, 1329, 1824))
setup(ax6, (-1, 4.0), (-0.7, 1.0), recip_ticks, chain_ticks, recip_labels, per_char=15)
dots(ax6, chain_recip, sync_cmap, 0, 1)

# synchrony colour bar
cax = fig.add_axes(rect(1030, 1108, 130, 624))
cb = fig.colorbar(ScalarMappable(Normalize(0, 1), sync_cmap), cax=cax, ticks=frac_ticks)
cb.ax.set_yticklabels(frac_labels)
cb.outline.set_linewidth(2.2)
cb.outline.set_edgecolor(INK)
cax.tick_params(direction='in', length=6, width=2, color=INK, left=True, right=True,
                labelsize=39, labelcolor=INK, pad=14)
for lab in cax.get_yticklabels():
    lab.set_transform(lab.get_transform() + px(0, -10))
fig.text(1295 / W, 1 - 423 / H, 'Synchrony', rotation=90, ha='center', va='center',
         fontsize=39, color=INK)

# --- panel B
axb = fig.add_axes(rect(1764, 2220, 139.5, 482))
setup(axb, (0, 1.005), (-0.7, 1.0), frac_ticks, chain_ticks, frac_labels, chain_labels,
      fs=37, xpad=31, ypad=22, ydrop=5)
dots(axb, rate_chain_conv, rate_cmap, 12, 18)

cbx = fig.add_axes(rect(2270, 2308, 139.5, 482))
cb2 = fig.colorbar(ScalarMappable(Normalize(12, 18), rate_cmap), cax=cbx, ticks=rate_ticks)
cb2.outline.set_linewidth(2.2)
cb2.outline.set_edgecolor(INK)
cbx.tick_params(length=0, labelsize=37, labelcolor=INK, pad=18)
fig.text(2439 / W, 1 - 301 / H, 'Mean rate (Hz)', rotation=90, ha='center', va='center',
         fontsize=39, color=INK)

# --- axis labels (math)
mfs = 40
fig.text(56 / W, 1 - 423 / H, r'$\hat{\alpha}_{\mathrm{div}}$', rotation=90,
         ha='center', va='center', fontsize=mfs, color=INK)
fig.text(118 / W, 1 - 1110 / H, r'$\hat{\alpha}_{\mathrm{recip}}$', rotation=90,
         ha='center', va='center', fontsize=mfs, color=INK)
fig.text(43 / W, 1 - 1645 / H, r'$\hat{\alpha}_{\mathrm{chain}}$', rotation=90,
         ha='center', va='center', fontsize=mfs, color=INK)
fig.text(537 / W, 1 - 2018 / H, r'$\hat{\alpha}_{\mathrm{conv}}$',
         ha='center', va='center', fontsize=mfs, color=INK)
fig.text(1302 / W, 1 - 2018 / H, r'$\hat{\alpha}_{\mathrm{div}}$',
         ha='center', va='center', fontsize=mfs, color=INK)
fig.text(2053 / W, 1 - 2018 / H, r'$\hat{\alpha}_{\mathrm{recip}}$',
         ha='center', va='center', fontsize=mfs, color=INK)
fig.text(1609 / W, 1 - 338 / H, r'$\hat{\alpha}_{\mathrm{chain}}$', rotation=90,
         ha='center', va='center', fontsize=mfs, color=INK)
fig.text(1973 / W, 1 - 630 / H, r'$\hat{\alpha}_{\mathrm{conv}}$',
         ha='center', va='center', fontsize=mfs, color=INK)

# panel letters
fig.text(29 / W, 1 - 49 / H, 'A', fontsize=36, fontweight='bold', va='baseline', color=INK)
fig.text(1583 / W, 1 - 48 / H, 'B', fontsize=36, fontweight='bold', va='baseline', color=INK)

fig.savefig('out.png', dpi=100, facecolor='white')
